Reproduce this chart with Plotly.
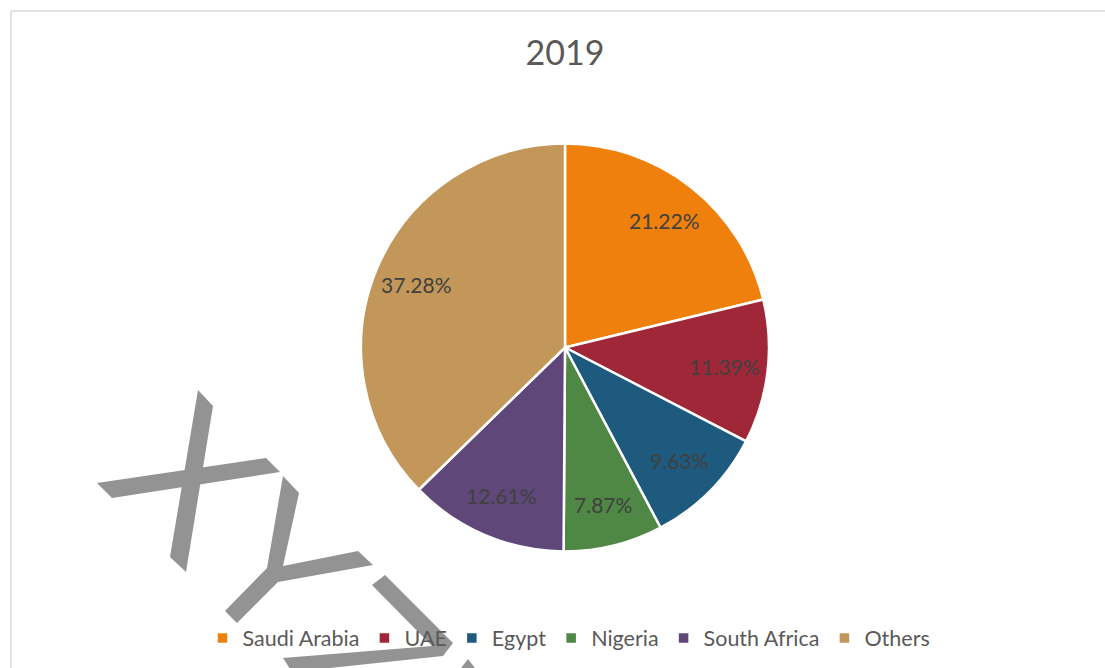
import math
import plotly.graph_objects as go

# Market share by country, 2019 (percent)
countries = ["Saudi Arabia", "UAE", "Egypt", "Nigeria", "South Africa", "Others"]
shares = [21.22, 11.39, 9.63, 7.87, 12.61, 37.28]
colors = ["#EF800C", "#A02738", "#1E5A7D", "#4F8744", "#5F4879", "#C29759"]
title_text = "2019"

W, H = 1105, 668
FONT = "Lato, 'Open Sans', sans-serif"

# Pie placement in pixels
cx, cy, r = 565, 347.5, 204

fig = go.Figure(
    go.Pie(
        labels=countries,
        values=shares,
        sort=False,
        direction="clockwise",
        rotation=0,
        marker=dict(colors=colors, line=dict(color="white", width=2.5)),
        textinfo="none",
        hoverinfo="label+percent",
        domain=dict(
            x=[(cx - r) / W, (cx + r) / W],
            y=[(H - cy - r) / H, (H - cy + r) / H],
        ),
    )
)

# Percentage labels along each slice bisector
annotations = []
total = sum(shares)
cum = 0.0
for name, v in zip(countries, shares):
    mid = (cum + v / 2) / total * 2 * math.pi
    cum += v
    d = 0.79 * r
    px = cx + d * math.sin(mid)
    py = cy - d * math.cos(mid)
    annotations.append(
        dict(
            x=px / W, y=1 - py / H, xref="paper", yref="paper",
            text=f"{v:.2f}%", showarrow=False,
            font=dict(family=FONT, size=21, color="#404040"),
            xanchor="center", yanchor="middle",
        )
    )

# Background "XY" watermark strokes (pixel polygons)
wm_polys = [
    [(198, 390), (213, 406), (186, 572), (170, 557)],
    [(97, 483), (266, 458), (280, 472), (112, 498)],
    [(283, 476), (299, 493), (283, 566), (358, 551), (373, 565), (278, 582),
     (237, 623), (225, 611), (267, 568)],
    [(372, 585), (432, 646), (283, 658), (292, 672), (443, 656), (453, 643), (385, 575)],
    [(468, 659), (478, 672), (458, 672)],
]
shapes = []
for poly in wm_polys:
    path = "M " + " L ".join(f"{x / W:.5f},{1 - y / H:.5f}" for x, y in poly) + " Z"
    shapes.append(dict(type="path", path=path, xref="paper", yref="paper",
                       fillcolor="#939393", line=dict(width=0), layer="below"))

# Chart frame
shapes.append(dict(type="rect", xref="paper", yref="paper",
                   x0=11 / W, x1=1.02, y0=-0.02, y1=1 - 11 / H,
                   line=dict(color="#D9D9D9", width=1.5), fillcolor="rgba(0,0,0,0)",
                   layer="below"))

fig.update_layout(
    width=W, height=H,
    margin=dict(l=0, r=0, t=0, b=0),
    paper_bgcolor="white", plot_bgcolor="white",
    title=dict(text=title_text, x=cx / W, xanchor="center", y=1 - 53 / H, yanchor="middle",
               font=dict(family=FONT, size=34, color="#595959")),
    showlegend=True,
    legend=dict(orientation="h", x=569 / W, xanchor="center", y=1 - 638 / H, yanchor="middle",
                font=dict(family=FONT, size=21.5, color="#595959"),
                bgcolor="rgba(0,0,0,0)", itemwidth=30, traceorder="normal"),
    annotations=annotations,
    shapes=shapes,
)

fig.write_html("out.html")
